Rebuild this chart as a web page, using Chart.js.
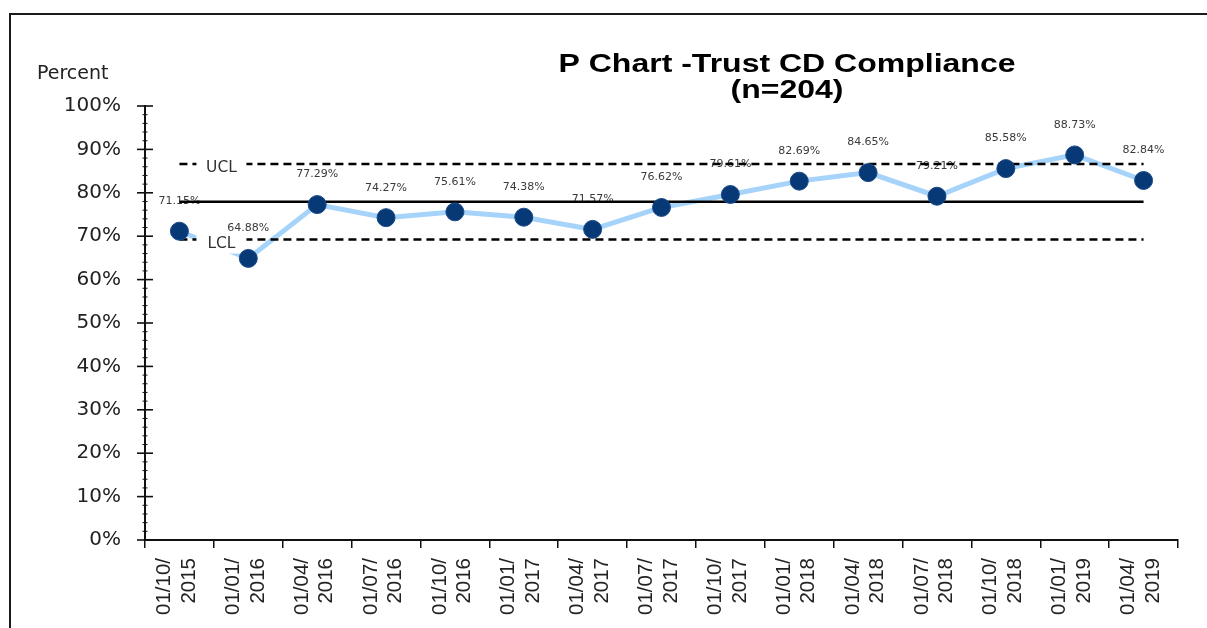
<!DOCTYPE html>
<html>
<head>
<meta charset="utf-8">
<title>P Chart - Trust CD Compliance</title>
<script src="https://cdn.jsdelivr.net/npm/chart.js@4.4.1/dist/chart.umd.min.js"></script>
<style>
    html, body { margin: 0; padding: 0; background: #fff; }
    #wrap { width: 1207px; height: 628px; position: relative; }
</style>
</head>
<body>
<div id="wrap"><canvas id="pchart"></canvas></div>
<script>
// quarter start dates, two lines per label
const quarters = [
    ['01/10/', '2015'], ['01/01/', '2016'], ['01/04/', '2016'], ['01/07/', '2016'],
    ['01/10/', '2016'], ['01/01/', '2017'], ['01/04/', '2017'], ['01/07/', '2017'],
    ['01/10/', '2017'], ['01/01/', '2018'], ['01/04/', '2018'], ['01/07/', '2018'],
    ['01/10/', '2018'], ['01/01/', '2019'], ['01/04/', '2019']
];
const compliance = [71.15, 64.88, 77.29, 74.27, 75.61, 74.38, 71.57, 76.62,
    79.61, 82.69, 84.65, 79.21, 85.58, 88.73, 82.84];

// control limits (p chart, n=204)
const centreLine = 77.94;
const upperLimit = 86.65;
const lowerLimit = 69.23;

const yTicks = [0, 10, 20, 30, 40, 50, 60, 70, 80, 90, 100];

const flat = (v) => quarters.map(() => v);

const frameAndTitle = {
    id: 'frameAndTitle',
    beforeDraw(chart) {
        const ctx = chart.ctx;
        ctx.save();
        ctx.fillStyle = '#fff';
        ctx.fillRect(0, 0, chart.width, chart.height);
        ctx.strokeStyle = '#1a1a1a';
        ctx.lineWidth = 2;
        ctx.beginPath();
        ctx.moveTo(10, chart.height);
        ctx.lineTo(10, 14);
        ctx.lineTo(chart.width, 14);
        ctx.stroke();

        // title, a bit wide like the original
        ctx.fillStyle = '#000';
        ctx.textAlign = 'center';
        ctx.textBaseline = 'alphabetic';
        ctx.font = 'bold 25px "Liberation Sans", Arial, sans-serif';
        ctx.translate(787, 0);
        ctx.scale(1.28, 1);
        ctx.fillText('P Chart -Trust CD Compliance', 0, 72);
        ctx.fillText('(n=204)', 0, 98);
        ctx.restore();

        ctx.save();
        ctx.fillStyle = '#222';
        ctx.font = '19px "DejaVu Sans", sans-serif';
        ctx.textAlign = 'left';
        ctx.textBaseline = 'alphabetic';
        ctx.fillText('Percent', 37, 79);
        ctx.restore();
    },
    beforeDatasetsDraw(chart) {
        // value labels sit under the lines
        const meta = chart.getDatasetMeta(0);
        const ctx = chart.ctx;
        ctx.save();
        ctx.fillStyle = '#3a3a3a';
        ctx.font = '11px "DejaVu Sans", sans-serif';
        ctx.textAlign = 'center';
        ctx.textBaseline = 'middle';
        meta.data.forEach((pt, i) => {
            ctx.fillText(compliance[i].toFixed(2) + '%', pt.x, pt.y - 30);
        });
        ctx.restore();
    },
    afterDatasetDraw(chart, args) {
        const ds = chart.data.datasets[args.index];
        if (!ds.limitText) return;
        const pts = args.meta.data;
        const ctx = chart.ctx;
        const cx = pts[0].x + 42;
        const cy = pts[0].y + 4;
        ctx.save();
        ctx.fillStyle = '#fff';
        ctx.fillRect(cx - 25, cy - 10, 50, 20);
        ctx.fillStyle = '#333';
        ctx.font = '15.5px "DejaVu Sans", sans-serif';
        ctx.textAlign = 'center';
        ctx.textBaseline = 'middle';
        ctx.fillText(ds.limitText, cx, cy);
        ctx.restore();
    },
    afterDraw(chart) {
        // y axis ticks cross the axis, minor every 2%
        const y = chart.scales.y;
        const ax = chart.chartArea.left;
        const ctx = chart.ctx;
        ctx.save();
        ctx.strokeStyle = '#111';
        for (let v = 0; v <= 100; v += 2) {
            const major = yTicks.includes(v);
            const len = major ? 8 : 2.5;
            const py = y.getPixelForValue(v);
            ctx.lineWidth = major ? 1.6 : 1;
            ctx.beginPath();
            ctx.moveTo(ax - len, py);
            ctx.lineTo(ax + len, py);
            ctx.stroke();
        }
        ctx.restore();
    }
};

new Chart(document.getElementById('pchart'), {
    type: 'line',
    data: {
        labels: quarters,
        datasets: [
            {
                label: 'Compliance points',
                data: compliance,
                showLine: false,
                pointRadius: 9,
                pointBackgroundColor: '#083977',
                pointBorderColor: '#1b4a8a',
                pointBorderWidth: 1,
                order: 0
            },
            {
                label: 'UCL',
                data: flat(upperLimit),
                borderColor: '#000',
                borderWidth: 2.5,
                borderDash: [8, 5],
                pointRadius: 0,
                limitText: 'UCL',
                order: 1
            },
            {
                label: 'LCL',
                data: flat(lowerLimit),
                borderColor: '#000',
                borderWidth: 2.5,
                borderDash: [8, 5],
                pointRadius: 0,
                limitText: 'LCL',
                order: 1
            },
            {
                label: 'CL',
                data: flat(centreLine),
                borderColor: '#000',
                borderWidth: 2.5,
                pointRadius: 0,
                order: 1
            },
            {
                label: 'Compliance',
                data: compliance,
                borderColor: 'rgb(166, 211, 250)',
                borderWidth: 5,
                pointRadius: 0,
                tension: 0,
                order: 2
            }
        ]
    },
    options: {
        responsive: true,
        maintainAspectRatio: false,
        animation: false,
        layout: { padding: { left: 0, top: 106, right: 29, bottom: 0 } },
        plugins: {
            legend: { display: false },
            tooltip: { enabled: false },
            title: { display: false }
        },
        scales: {
            x: {
                offset: true,
                grid: {
                    offset: true,
                    drawOnChartArea: false,
                    drawTicks: true,
                    tickLength: 8,
                    color: '#111',
                    lineWidth: 1.5
                },
                border: { display: true, color: '#111', width: 2 },
                ticks: {
                    autoSkip: false,
                    minRotation: 90,
                    maxRotation: 90,
                    padding: 10,
                    labelOffset: -15,
                    color: '#222',
                    font: { family: '"Liberation Sans", Arial, sans-serif', size: 20.5 }
                },
                afterFit: (scale) => { scale.height = 88; }
            },
            y: {
                min: 0,
                max: 100,
                grid: { drawOnChartArea: false, drawTicks: false },
                border: { display: true, color: '#111', width: 2 },
                afterBuildTicks: (scale) => { scale.ticks = yTicks.map((v) => ({ value: v })); },
                ticks: {
                    padding: 24,
                    color: '#222',
                    font: { family: '"DejaVu Sans", sans-serif', size: 20 },
                    callback: (v) => v + '%'
                },
                afterFit: (scale) => { scale.width = 145; }
            }
        }
    },
    plugins: [frameAndTitle]
});
</script>
</body>
</html>
